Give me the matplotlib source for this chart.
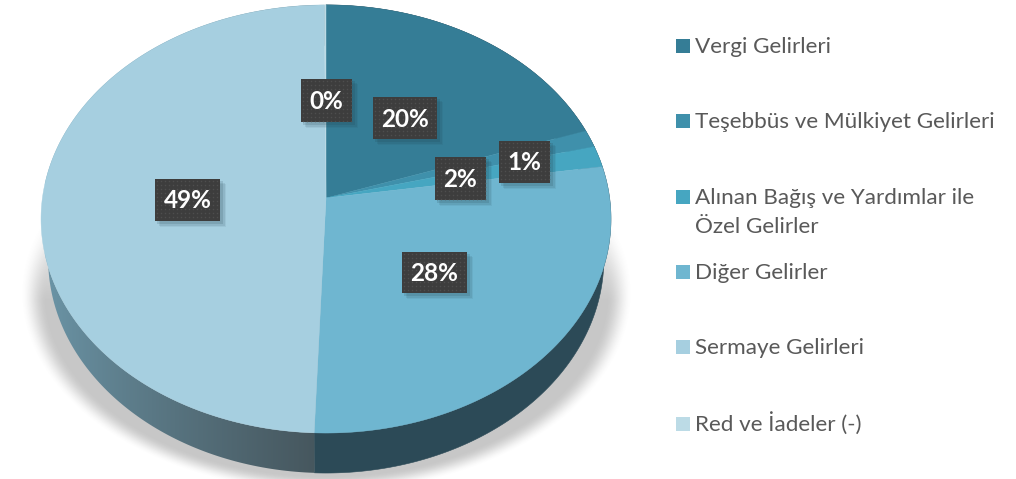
import numpy as np
import matplotlib
matplotlib.use("Agg")
import matplotlib.pyplot as plt
from matplotlib.patches import Rectangle, Polygon

categories = ["Vergi Gelirleri", "Teşebbüs ve Mülkiyet Gelirleri",
              "Alınan Bağış ve Yardımlar ile\nÖzel Gelirler", "Diğer Gelirler",
              "Sermaye Gelirleri", "Red ve İadeler (-)"]
values = [19.7, 1.3, 1.6, 28.0, 49.3, 0.1]
colors = ["#357d96", "#3f90ab", "#46a6c1", "#6fb6d0", "#a6cfe0", "#bcdbe6"]

W, H = 1016, 479
plt.rcParams["font.family"] = ["Lato", "DejaVu Sans"]
fig = plt.figure(figsize=(W / 100, H / 100), dpi=100)
ax = fig.add_axes([0, 0, 1, 1])

CX, CY, A, B, K, DEPTH, SHRINK = 326.0, 198.0, 212.0, 283.6, 0.098, 40.0, 0.975


def project(turn):
    ang = 2 * np.pi * np.asarray(turn)
    u, v = np.sin(ang), np.cos(ang)
    d = 1 + K * v
    return CX + B * u / d, CY - A * v / d


# soft ground shadow
yy, xx = np.mgrid[0:H, 0:W]
dist = np.sqrt(((xx - 326) / 306.0) ** 2 + ((yy - 292) / 200.0) ** 2)
edge = np.clip((1 - dist) / 0.085, 0, 1)
edge = edge * edge * (3 - 2 * edge)
fade = np.clip((yy - 200) / 100.0, 0, 1)
shadow = np.zeros((H, W, 4))
shadow[..., :3] = 0.42
shadow[..., 3] = 0.38 * edge * fade
ax.imshow(shadow, extent=(0, W, H, 0), aspect="auto", zorder=1, interpolation="bilinear")

bounds = np.cumsum([0] + values) / sum(values)

# side wall, one piece for each slice
for i in range(len(values)):
    t = np.linspace(bounds[i], bounds[i + 1], 200)
    x, y = project(t)
    xb = CX + (x - CX) * SHRINK
    yb = y + DEPTH
    pts = np.r_[np.c_[x, y], np.c_[xb, yb][::-1]]
    if i == 4:
        poly = Polygon(pts, closed=True, fc="none", ec="none", zorder=2)
        ax.add_patch(poly)
        c0, c1 = np.array([0x6c, 0x96, 0xa8]) / 255, np.array([0x45, 0x55, 0x5c]) / 255
        s = np.linspace(0, 1, 300)[None, :, None] ** 0.8
        grad = c0 * (1 - s) + c1 * s
        im = ax.imshow(grad, extent=(45, 326, H, 0), aspect="auto", zorder=2)
        im.set_clip_path(poly)
    else:
        ax.add_patch(Polygon(pts, closed=True, fc="#2c4a57", ec="#2c4a57", lw=0.4, zorder=2))

# top face
for i, (val, col) in enumerate(zip(values, colors)):
    x, y = project(np.linspace(bounds[i], bounds[i + 1], 200))
    ax.fill(np.r_[CX, x], np.r_[CY, y], fc=col, ec=col, lw=0.3, zorder=3)

# value labels
label_boxes = [(373, 97, 64, 42), (499, 141, 51, 42), (435, 157, 51, 43),
               (402, 252, 65, 41), (155, 179, 65, 42), (301, 79, 51, 43)]
for val, (bx, by, bw, bh) in zip(values, label_boxes):
    for off, al in ((6, 0.07), (4.5, 0.10), (3, 0.14)):
        ax.add_patch(Rectangle((bx + off - 1, by + off - 1), bw + 1, bh + 1, fc="#1c3a45", ec="none", alpha=al, zorder=5))
    ax.add_patch(Rectangle((bx, by), bw, bh, fc="#3d3d3d", ec="none", zorder=6))
    dx, dy = np.meshgrid(np.arange(bx + 2, bx + bw, 4.0), np.arange(by + 2, by + bh, 4.0))
    ax.scatter(dx.ravel(), dy.ravel(), s=1.2, c="#4e4e4e", lw=0, zorder=7)
    ax.text(bx + bw / 2, by + bh / 2 + 1, f"{val:.0f}%", color="white", fontsize=17.5, fontweight="bold",
            ha="center", va="center", zorder=8)

# legend
legend_y = [46, 121, 197, 272, 347, 424]
for name, col, ly in zip(categories, colors, legend_y):
    ax.add_patch(Rectangle((676, ly - 7), 14, 14, fc=col, ec="none", zorder=4))
    lines = name.split("\n")
    for n, line in enumerate(lines):
        ax.text(695, ly + 7 + 29 * n, line, color="#595959", fontsize=16.2,
                ha="left", va="baseline", zorder=4)

ax.set_xlim(0, W)
ax.set_ylim(H, 0)
ax.axis("off")
fig.savefig("out.png", dpi=100, facecolor="white")
